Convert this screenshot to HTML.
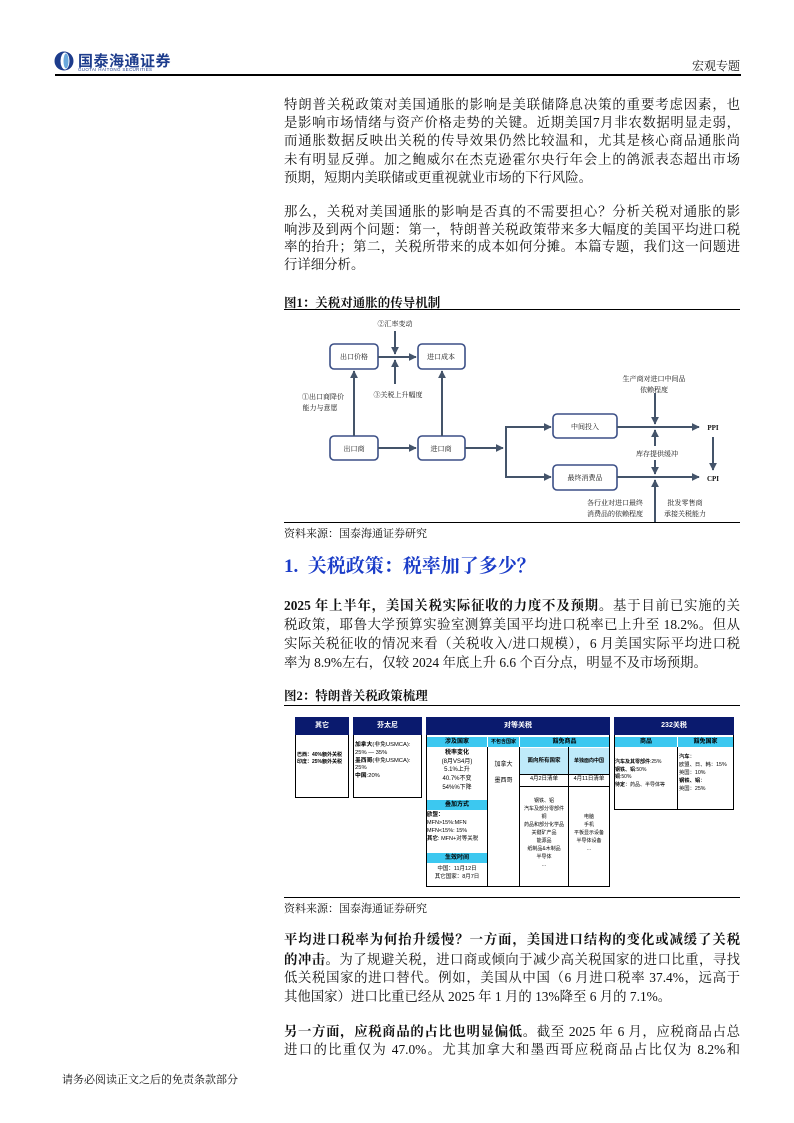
<!DOCTYPE html>
<html><head><meta charset="utf-8">
<style>
*{margin:0;padding:0;box-sizing:border-box}
body{width:794px;height:1123px;position:relative;background:#fff;font-family:"Liberation Serif","Noto Serif CJK SC",serif;color:#111;overflow:hidden}
.l{position:absolute;left:284px;width:456px;height:18px;line-height:18px;font-size:13.4px;white-space:nowrap;text-align:justify;text-align-last:justify}
.e{text-align-last:left}
b{font-weight:bold}
.ab{position:absolute}
.t{position:absolute;font-size:6px;line-height:1.35;font-family:"Liberation Sans","Noto Sans CJK SC",sans-serif;color:#000;white-space:nowrap}
.hd{background:#0a1a6e;color:#fff;font-weight:bold;text-align:center;font-size:7px}
.cy{background:#3cc8f0;font-weight:bold;text-align:center;font-size:6px;color:#000}
.lc{background:#bfeafa;font-weight:bold;text-align:center;font-size:5.5px}
.bx{position:absolute;border:1.2px solid #000;background:#fff}
</style></head><body>

<svg class="ab" style="left:54px;top:51px" width="20" height="20" viewBox="0 0 20 20"><circle cx="10" cy="10" r="9.5" fill="#1d3c8c"/><ellipse cx="11" cy="10" rx="4.5" ry="8.5" fill="#fff"/><ellipse cx="12" cy="10" rx="2.5" ry="7.5" fill="#6aa8dc"/></svg>
<div class="ab" style="left:78px;top:50px;font-size:15px;font-weight:bold;color:#1d3c8c;font-family:'Liberation Sans','Noto Sans CJK SC',sans-serif;letter-spacing:0.5px">国泰海通证券</div>
<div class="ab" style="left:78px;top:67px;font-size:4.5px;color:#1d3c8c;font-family:'Liberation Sans',sans-serif;letter-spacing:0.3px">GUOTAI HAITONG SECURITIES</div>
<div class="ab" style="left:692px;top:57px;font-size:12px">宏观专题</div>
<div class="ab" style="left:55px;top:74px;width:686px;height:1.5px;background:#000"></div>

<div class="l" style="top:96px">特朗普关税政策对美国通胀的影响是美联储降息决策的重要考虑因素，也</div>
<div class="l" style="top:114px">是影响市场情绪与资产价格走势的关键。近期美国7月非农数据明显走弱，</div>
<div class="l" style="top:132px">而通胀数据反映出关税的传导效果仍然比较温和，尤其是核心商品通胀尚</div>
<div class="l" style="top:151px">未有明显反弹。加之鲍威尔在杰克逊霍尔央行年会上的鸽派表态超出市场</div>
<div class="l e" style="top:169px">预期，短期内美联储或更重视就业市场的下行风险。</div>

<div class="l" style="top:203px">那么，关税对美国通胀的影响是否真的不需要担心？分析关税对通胀的影</div>
<div class="l" style="top:221px">响涉及到两个问题：第一，特朗普关税政策带来多大幅度的美国平均进口税</div>
<div class="l" style="top:238px">率的抬升；第二，关税所带来的成本如何分摊。本篇专题，我们这一问题进</div>
<div class="l e" style="top:256px">行详细分析。</div>

<div class="ab" style="left:284px;top:293px;font-size:12.5px;font-weight:bold">图1：关税对通胀的传导机制</div>
<div class="ab" style="left:284px;top:309px;width:456px;height:1.2px;background:#000"></div>

<svg class="ab" style="left:0;top:0" width="794" height="560">
<defs><marker id="a" viewBox="0 0 10 10" refX="9" refY="5" markerWidth="4" markerHeight="4" orient="auto"><path d="M0,0L10,5L0,10z" fill="#44546a"/></marker></defs>
<g fill="#fff" stroke="#3b4f86" stroke-width="1.6">
<rect x="330" y="344" width="48" height="25" rx="4"/>
<rect x="418" y="344" width="47" height="25" rx="4"/>
<rect x="330" y="436" width="48" height="24" rx="4"/>
<rect x="418" y="436" width="47" height="24" rx="4"/>
<rect x="553" y="414" width="64" height="24" rx="4"/>
<rect x="553" y="465" width="64" height="25" rx="4"/>
</g>
<g stroke="#44546a" stroke-width="2" fill="none" marker-end="url(#a)">
<line x1="378" y1="357" x2="416" y2="357"/>
<line x1="395" y1="331" x2="395" y2="354"/>
<line x1="395" y1="384" x2="395" y2="360"/>
<line x1="354" y1="436" x2="354" y2="371"/>
<line x1="442" y1="436" x2="442" y2="371"/>
<line x1="378" y1="448" x2="416" y2="448"/>
<line x1="465" y1="448" x2="503" y2="448"/>
<polyline points="506,477 506,427 551,427"/>
<polyline points="506,427 506,477 551,477"/>
<line x1="617" y1="427" x2="699" y2="427"/>
<line x1="617" y1="477" x2="699" y2="477"/>
<line x1="655" y1="393" x2="655" y2="424"/>
<line x1="655" y1="446" x2="655" y2="430"/>
<line x1="655" y1="460" x2="655" y2="474"/>
<line x1="655" y1="522" x2="655" y2="480"/>
<line x1="713" y1="437" x2="713" y2="470"/>
</g>
<g font-size="7" fill="#111" font-family="Liberation Serif,Noto Serif CJK SC,serif" text-anchor="middle">
<text x="354" y="359">出口价格</text>
<text x="441" y="359">进口成本</text>
<text x="354" y="451">出口商</text>
<text x="441" y="451">进口商</text>
<text x="585" y="429">中间投入</text>
<text x="585" y="480">最终消费品</text>
<text x="395" y="326">②汇率变动</text>
<text x="398" y="397">③关税上升幅度</text>
<text x="323" y="399">①出口商降价</text>
<text x="320" y="410">能力与意愿</text>
<text x="654" y="381">生产商对进口中间品</text>
<text x="654" y="392">依赖程度</text>
<text x="657" y="456">库存提供缓冲</text>
<text x="615" y="505">各行业对进口最终</text>
<text x="615" y="516">消费品的依赖程度</text>
<text x="685" y="505">批发零售商</text>
<text x="685" y="516">承接关税能力</text>
<text x="713" y="430" font-weight="bold">PPI</text>
<text x="713" y="481" font-weight="bold">CPI</text>
</g>
</svg>
<div class="ab" style="left:284px;top:522px;width:456px;height:1.2px;background:#000"></div>
<div class="ab" style="left:284px;top:525px;font-size:11px">资料来源：国泰海通证券研究</div>

<div class="ab" style="left:284px;top:555px;font-size:19px;color:#1a3cc8;font-weight:bold;line-height:24px">1.&nbsp; 关税政策：税率加了多少？</div>

<div class="l" style="top:597px"><b>2025 年上半年，美国关税实际征收的力度不及预期。</b>基于目前已实施的关</div>
<div class="l" style="top:616px">税政策，耶鲁大学预算实验室测算美国平均进口税率已上升至 18.2%。但从</div>
<div class="l" style="top:635px">实际关税征收的情况来看（关税收入/进口规模），6 月美国实际平均进口税</div>
<div class="l e" style="top:654px">率为 8.9%左右，仅较 2024 年底上升 6.6 个百分点，明显不及市场预期。</div>

<div class="ab" style="left:284px;top:686px;font-size:12.5px;font-weight:bold">图2：特朗普关税政策梳理</div>
<div class="ab" style="left:284px;top:705px;width:456px;height:1.2px;background:#000"></div>

<div class="bx" style="left:295px;top:717px;width:54px;height:81px"></div>
<div class="t hd" style="left:295px;top:717px;width:54px;height:18px;line-height:18px">其它</div>
<div class="t" style="left:297px;top:752px;font-weight:bold;font-size:5px">巴西：40%额外关税<br>印度：25%额外关税</div>

<div class="bx" style="left:353px;top:717px;width:69px;height:81px"></div>
<div class="t hd" style="left:353px;top:717px;width:69px;height:18px;line-height:18px">芬太尼</div>
<div class="t" style="left:355px;top:742px;font-size:5.8px"><b>加拿大</b>(非免USMCA):<br>25% — 35%<br><b>墨西哥</b>(非免USMCA):<br>25%<br><b>中国</b>:20%</div>

<div class="bx" style="left:426px;top:717px;width:184px;height:170px"></div>
<div class="t hd" style="left:426px;top:717px;width:184px;height:18px;line-height:18px">对等关税</div>
<div class="t cy" style="left:427px;top:737px;width:60px;height:10px;line-height:10px">涉及国家</div>
<div class="t cy" style="left:488px;top:737px;width:31px;height:10px;line-height:10px;font-size:5px">不包含国家</div>
<div class="t cy" style="left:520px;top:737px;width:89px;height:10px;line-height:10px">豁免商品</div>
<div class="ab" style="left:487px;top:747px;width:1px;height:140px;background:#000"></div>
<div class="ab" style="left:519px;top:747px;width:1px;height:140px;background:#000"></div>
<div class="ab" style="left:568px;top:747px;width:1px;height:140px;background:#000"></div>
<div class="t" style="left:427px;top:749px;width:60px;text-align:center;line-height:1.45"><b>税率变化</b><br>(8月VS4月)<br>5.1%上升<br>40.7%不变<br>54%%下降</div>
<div class="t cy" style="left:427px;top:800px;width:60px;height:10px;line-height:10px">叠加方式</div>
<div class="t" style="left:427px;top:812px;line-height:1.45;font-size:5.5px"><b>欧盟：</b><br>MFN&gt;15%:MFN<br>MFN&lt;15%: 15%<br><b>其它</b>: MFN+对等关税</div>
<div class="t cy" style="left:427px;top:853px;width:60px;height:10px;line-height:10px">生效时间</div>
<div class="t" style="left:427px;top:865px;width:60px;text-align:center;line-height:1.5;font-size:5.5px">中国：11月12日<br>其它国家：8月7日</div>
<div class="t" style="left:488px;top:758px;width:31px;text-align:center;line-height:2.6">加拿大<br>墨西哥</div>
<div class="t lc" style="left:520px;top:748px;width:48px;height:26px;line-height:26px">面向所有国家</div>
<div class="t lc" style="left:569px;top:748px;width:40px;height:26px;line-height:26px;font-size:5px">单独面向中国</div>
<div class="ab" style="left:519px;top:774px;width:91px;height:1px;background:#000"></div>
<div class="t" style="left:520px;top:776px;width:48px;text-align:center;font-size:5.5px">4月2日清单</div>
<div class="t" style="left:569px;top:776px;width:40px;text-align:center;font-size:5.5px">4月11日清单</div>
<div class="ab" style="left:519px;top:786px;width:91px;height:1px;background:#000"></div>
<div class="t" style="left:519px;top:797px;width:50px;text-align:center;font-size:5px;line-height:1.6">钢铁、铝<br>汽车及部分零部件<br>铜<br>药品和部分化学品<br>关键矿产品<br>能源品<br>纸制品&amp;木制品<br>半导体<br>...</div>
<div class="t" style="left:569px;top:813px;width:40px;text-align:center;font-size:5px;line-height:1.6">电脑<br>手机<br>平板显示设备<br>半导体设备<br>...</div>

<div class="bx" style="left:614px;top:717px;width:120px;height:93px"></div>
<div class="t hd" style="left:614px;top:717px;width:120px;height:18px;line-height:18px">232关税</div>
<div class="t cy" style="left:615px;top:737px;width:62px;height:10px;line-height:10px">商品</div>
<div class="t cy" style="left:678px;top:737px;width:55px;height:10px;line-height:10px">豁免国家</div>
<div class="ab" style="left:677px;top:747px;width:1px;height:63px;background:#000"></div>
<div class="t" style="left:615px;top:759px;line-height:1.5;font-size:5px"><b>汽车及其零部件</b>:25%<br><b>钢铁、铝</b>:50%<br><b>铜</b>:50%<br><b>待定</b>：药品、半导体等</div>
<div class="t" style="left:679px;top:754px;line-height:1.5;font-size:5.3px"><b>汽车</b>：<br>欧盟、日、韩：15%<br>英国：10%<br><b>钢铁、铝</b>：<br>英国：25%</div>

<div class="ab" style="left:284px;top:897px;width:456px;height:1.2px;background:#000"></div>
<div class="ab" style="left:284px;top:900px;font-size:11px">资料来源：国泰海通证券研究</div>

<div class="l" style="top:931px"><b>平均进口税率为何抬升缓慢？一方面，美国进口结构的变化或减缓了关税</b></div>
<div class="l" style="top:951px"><b>的冲击。</b>为了规避关税，进口商或倾向于减少高关税国家的进口比重，寻找</div>
<div class="l" style="top:969px">低关税国家的进口替代。例如，美国从中国（6 月进口税率 37.4%，远高于</div>
<div class="l e" style="top:988px">其他国家）进口比重已经从 2025 年 1 月的 13%降至 6 月的 7.1%。</div>

<div class="l" style="top:1023px"><b>另一方面，应税商品的占比也明显偏低。</b>截至 2025 年 6 月，应税商品占总</div>
<div class="l" style="top:1041px">进口的比重仅为 47.0%。尤其加拿大和墨西哥应税商品占比仅为 8.2%和</div>

<div class="ab" style="left:62px;top:1071px;font-size:11px">请务必阅读正文之后的免责条款部分</div>
</body></html>
